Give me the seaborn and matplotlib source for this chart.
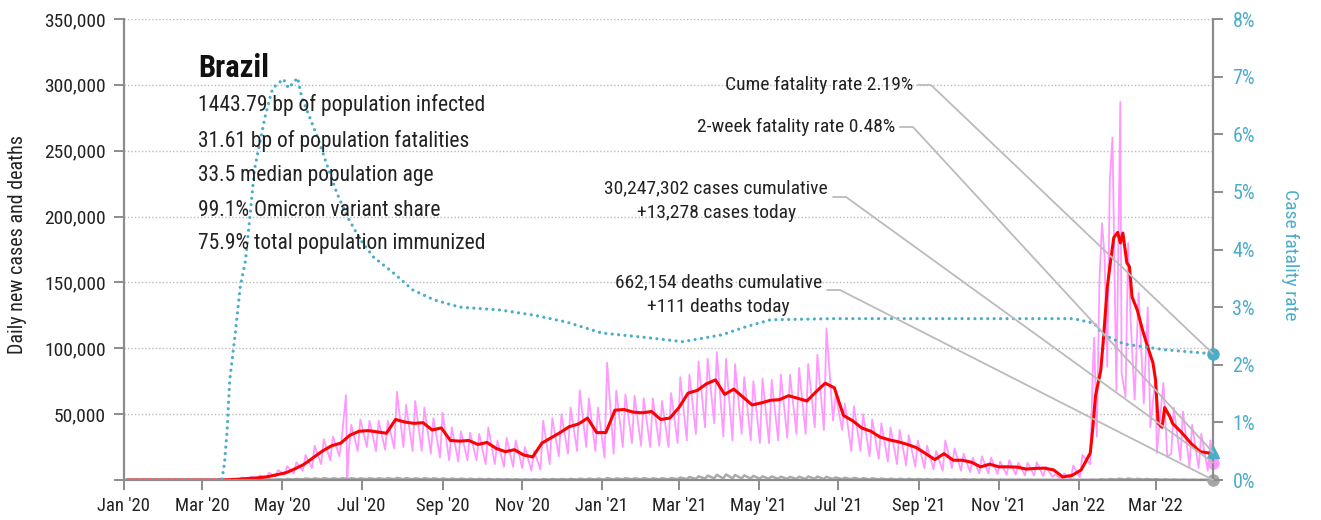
import numpy as np
import pandas as pd
import matplotlib
matplotlib.use("Agg")
import matplotlib.pyplot as plt
import matplotlib.dates as mdates
import matplotlib.font_manager as fm
from matplotlib.ticker import FuncFormatter, MultipleLocator
from matplotlib.lines import Line2D
import seaborn as sns

# ---------------- data ----------------
week_start = pd.date_range("2020-03-16", "2022-04-11", freq="7D")

avg7 = [0, 300, 700, 1200, 1700, 2500, 4000, 5500, 8500, 12000, 17000, 22000, 26000, 28000, 34000, 37000,
        37500, 36500, 35500, 46000, 44000, 43000, 43500, 38000, 39500, 30000, 29500, 30000, 27000, 28500,
        24000, 21500, 23000, 19000, 17500, 28000, 32000, 36000, 40500, 42500, 47000, 36000, 36000, 53000,
        53500, 51500, 51000, 52000, 46000, 47000, 55000, 66000, 68000, 73000, 76000, 65000, 69000, 63000,
        57000, 58500, 60500, 61000, 64000, 62000, 60000, 67000, 73500, 70000, 49000, 45000, 39500, 37000,
        32600, 30500, 29000, 27000, 24500, 20000, 15500, 20000, 15000, 15000, 13500, 10000, 12000, 10000,
        10000, 9800, 8300, 8800, 9000, 7600, 2300, 3500, 7600, 20000, 72000, 152000, 187000, 172000,
        137000, 98000, 72000, 42000, 43000, 36000, 28000, 21500, 20500]

daily_hi = [500, 1200, 2000, 2500, 3500, 5500, 7500, 10500, 13500, 19000, 26000, 31000, 33000, 34000, 42000,
            46000, 45000, 45000, 45000, 67000, 57000, 60000, 55000, 47000, 51000, 40000, 37000, 36000, 35000,
            40000, 30000, 32000, 30000, 25000, 22000, 45000, 47000, 50000, 55000, 68000, 62000, 55000, 89000,
            68000, 65000, 64000, 62000, 62000, 60000, 66000, 78000, 80000, 90000, 92000, 97000, 92000, 88000,
            78000, 75000, 77000, 76000, 80000, 80000, 85000, 88000, 95000, 115000, 65000, 58000, 56000, 50000,
            46000, 43000, 40000, 38000, 34000, 30000, 26000, 22000, 30000, 24000, 20000, 17000, 18000, 17000,
            14000, 15000, 13000, 13000, 13500, 10000, 4000, 5000, 11000, 19000, 70000, 195000, 260000, 287000,
            220000, 178000, 140000, 100000, 76000, 55000, 52000, 42000, 35000, 30000]

daily_lo = [200, 400, 900, 1200, 1500, 2500, 4000, 5000, 7000, 9000, 12000, 15000, 18000, 20000, 22000,
            25000, 22000, 23000, 24000, 25000, 22000, 22000, 20000, 17000, 15000, 14000, 15000, 15000, 12000,
            12000, 10000, 10000, 9000, 7000, 8000, 12000, 18000, 20000, 22000, 25000, 22000, 17000, 20000,
            25000, 28000, 26000, 25000, 26000, 25000, 28000, 30000, 35000, 40000, 43000, 33000, 30000, 35000,
            30000, 28000, 28000, 30000, 32000, 35000, 35000, 40000, 38000, 45000, 38000, 22000, 22000, 18000,
            16000, 14000, 12000, 11000, 10000, 9000, 8000, 7000, 9000, 7000, 6000, 5000, 5000, 4500,
            4000, 4000, 3500, 3500, 3000, 2500, 1000, 1000, 2000, 6000, 15000, 33000, 100000, 102000,
            70000, 66000, 45000, 20000, 15000, 15000, 10000, 9000, 7000, 8000]

deaths_hi = [10, 50, 150, 250, 400, 450, 600, 750, 900, 1100, 1200, 1350, 1300, 1350, 1400, 1300,
             1300, 1300, 1350, 1600, 1400, 1300, 1350, 1300, 1200, 1150, 1100, 1000, 900, 850,
             750, 650, 600, 500, 500, 700, 750, 800, 900, 1000, 1100, 1100, 1500, 1300,
             1400, 1300, 1400, 1300, 1400, 1500, 1900, 2300, 2800, 3300, 3900, 4200, 3800, 3500,
             3100, 2800, 2700, 2500, 2400, 2500, 2700, 2600, 2400, 2000, 1700, 1600, 1400, 1300,
             1100, 1000, 950, 900, 800, 700, 650, 600, 550, 600, 500, 450, 400, 350,
             300, 300, 250, 250, 200, 150, 150, 150, 200, 350, 600, 800, 1000, 1100,
             950, 800, 650, 500, 400, 350, 300, 200, 200]
deaths_lo = [0, 20, 60, 100, 150, 200, 300, 400, 500, 600, 600, 600, 600, 600, 600, 600,
             600, 650, 650, 550, 550, 550, 600, 500, 400, 400, 400, 350, 300, 250,
             250, 200, 200, 150, 150, 200, 250, 250, 300, 350, 300, 300, 400, 500,
             500, 500, 500, 500, 500, 550, 700, 800, 1100, 1300, 1200, 1300, 1200, 1100,
             1000, 900, 900, 850, 800, 800, 850, 750, 700, 600, 550, 500, 450, 400,
             350, 300, 300, 250, 250, 200, 200, 180, 150, 150, 150, 120, 100, 100,
             80, 80, 60, 60, 50, 30, 30, 40, 50, 80, 150, 250, 300, 300,
             250, 250, 150, 120, 100, 80, 60, 40, 40]

# single-day readings outside the weekly pattern
case_outlier_dates = ["2020-06-19", "2020-06-20"]
case_outlier_vals = [64500, 800]

# Omicron wave read day by day (replaces weekly pattern in this window)
omi_start, omi_end = "2022-01-09", "2022-03-13"
omi_case_dates = ["2022-01-10", "2022-01-12", "2022-01-13", "2022-01-15", "2022-01-17", "2022-01-19",
                  "2022-01-21", "2022-01-23", "2022-01-25", "2022-01-27", "2022-01-30", "2022-02-02",
                  "2022-02-03", "2022-02-06", "2022-02-08", "2022-02-10", "2022-02-13", "2022-02-16",
                  "2022-02-18", "2022-02-20", "2022-02-23", "2022-02-25", "2022-03-01", "2022-03-02",
                  "2022-03-07", "2022-03-10", "2022-03-13"]
omi_case_vals = [12000, 86000, 108000, 33000, 150000, 195000, 169000, 86000, 228000, 260000, 68000, 287000,
                 81000, 63000, 180000, 120000, 61000, 142000, 100000, 58000, 131000, 40000, 78000, 20500,
                 73600, 17500, 20000]
omi_avg_dates = ["2022-01-10", "2022-01-12", "2022-01-14", "2022-01-18", "2022-01-20", "2022-01-23",
                 "2022-01-25", "2022-01-28", "2022-01-31", "2022-02-02", "2022-02-04", "2022-02-07",
                 "2022-02-09", "2022-02-11", "2022-02-15", "2022-02-19", "2022-02-23", "2022-02-27",
                 "2022-03-01", "2022-03-03", "2022-03-06", "2022-03-08", "2022-03-12"]
omi_avg_vals = [20500, 40000, 64000, 83000, 106000, 146000, 162000, 184000, 188000, 180000, 187500, 165000,
                162000, 139000, 129000, 114000, 101000, 89000, 76000, 43000, 40000, 55000, 48000]

last_date = "2022-04-14"
cases_today = 13278
deaths_today = 111
avg7_last = 16700

cfr_dates = ["2020-01-03", "2020-03-16", "2020-03-18", "2020-03-20", "2020-03-22", "2020-03-26", "2020-03-30",
             "2020-04-03", "2020-04-07", "2020-04-10", "2020-04-14", "2020-04-18", "2020-04-22", "2020-04-24",
             "2020-05-02", "2020-05-06", "2020-05-13", "2020-05-16", "2020-05-23", "2020-05-29", "2020-06-05",
             "2020-06-12", "2020-06-20", "2020-06-30", "2020-07-10", "2020-07-25", "2020-08-09", "2020-08-25",
             "2020-09-14", "2020-10-15", "2020-11-10", "2020-12-05", "2021-01-01", "2021-02-01",
             "2021-03-04", "2021-04-03", "2021-04-20", "2021-05-10", "2021-06-27", "2021-12-28", "2022-01-13",
             "2022-01-20", "2022-02-05", "2022-03-08", "2022-04-14"]
cfr_vals = [0, 0, 0.3, 0.87, 1.74, 2.5, 3.35, 3.8, 4.7, 5.4, 5.85, 6.3, 6.65, 6.8,
            6.96, 6.8, 6.98, 6.65, 6.25, 5.9, 5.43, 4.98, 4.57, 4.17, 3.87, 3.6, 3.3, 3.13,
            3.0, 2.95, 2.86, 2.74, 2.55, 2.48,
            2.4, 2.52, 2.65, 2.78, 2.8, 2.8, 2.72, 2.52, 2.36, 2.26, 2.19]
cfr_2week = 0.48

stats_title = "Brazil"
stats_lines = ["1443.79 bp of population infected",
               "31.61 bp of population fatalities",
               "33.5 median population age",
               "99.1% Omicron variant share",
               "75.9% total population immunized"]
ann_cume = "Cume fatality rate 2.19%"
ann_2wk = "2-week fatality rate 0.48%"
ann_cases = ["30,247,302 cases cumulative", "+13,278 cases today"]
ann_deaths = ["662,154 deaths cumulative", "+111 deaths today"]

# ---------------- assemble tables ----------------
lead = pd.to_datetime(["2020-01-03", "2020-03-09"])
o0, o1 = pd.Timestamp(omi_start), pd.Timestamp(omi_end)

pink_dates = list(lead) + list(week_start + pd.Timedelta(days=1)) + list(week_start + pd.Timedelta(days=6)) \
    + list(pd.to_datetime(case_outlier_dates)) + [pd.Timestamp(last_date)]
pink_vals = [0, 0] + daily_hi + daily_lo + case_outlier_vals + [cases_today]
df_pink = pd.DataFrame({"date": pink_dates, "cases": pink_vals})
df_pink = df_pink[(df_pink.date < o0) | (df_pink.date > o1)]
df_pink = pd.concat([df_pink, pd.DataFrame({"date": pd.to_datetime(omi_case_dates), "cases": omi_case_vals})])
df_pink = df_pink.sort_values("date")

df_red = pd.DataFrame({"date": list(lead) + list(week_start) + [pd.Timestamp(last_date)],
                       "avg": [0, 0] + avg7 + [avg7_last]})
df_red = df_red[(df_red.date < o0) | (df_red.date > o1)]
df_red = pd.concat([df_red, pd.DataFrame({"date": pd.to_datetime(omi_avg_dates), "avg": omi_avg_vals})])
df_red = df_red.sort_values("date")

death_dates = list(lead) + list(week_start + pd.Timedelta(days=1)) + list(week_start + pd.Timedelta(days=6)) \
    + [pd.Timestamp(last_date)]
df_death = pd.DataFrame({"date": death_dates,
                         "deaths": [0, 0] + deaths_hi + deaths_lo + [deaths_today]}).sort_values("date")

df_cfr = pd.DataFrame({"date": pd.to_datetime(cfr_dates), "cfr": np.array(cfr_vals) / 100})

# ---------------- style ----------------
sns.set_theme(style="white")

entries = fm.fontManager.ttflist
names = {f.name for f in entries}
FAM, STRETCH, SCALE = "Roboto", "normal", 0.9
picked = False
for nm in ["Roboto Condensed", "Liberation Sans Narrow", "Open Sans Condensed", "Noto Sans Condensed"]:
    if nm in names:
        FAM, STRETCH, SCALE = nm, "normal", 1.0
        picked = True
        break
if not picked:
    for nm in ["Noto Sans", "Roboto", "Open Sans", "DejaVu Sans"]:
        st = [str(f.stretch) for f in entries if f.name == nm
              and str(f.stretch) in ("condensed", "semi-condensed", "extra-condensed")]
        if st:
            FAM, STRETCH, SCALE = nm, ("condensed" if "condensed" in st else st[0]), 1.0
            break
plt.rcParams["font.family"] = [FAM, "DejaVu Sans"]
plt.rcParams["font.stretch"] = STRETCH


def fs(v):
    return v * SCALE


TEAL = "#4AADC9"
PINK = "#FF99FF"
RED = "#FF0000"
GRAY = "#AAAAAA"
SPINE = "#8C8C8C"
LEAD = "#BBBBBB"
TXT = "#222222"

W, H = 1321, 520
fig = plt.figure(figsize=(W / 100, H / 100), dpi=100)
ax = fig.add_axes([124 / W, 40 / H, (1213 - 124) / W, (480 - 19) / H])
ax2 = ax.twinx()

sns.lineplot(data=df_pink, x="date", y="cases", ax=ax, color=PINK, lw=1.3, estimator=None, sort=False)
sns.lineplot(data=df_death, x="date", y="deaths", ax=ax, color=GRAY, lw=1.8, estimator=None, sort=False)
sns.lineplot(data=df_red, x="date", y="avg", ax=ax, color=RED, lw=2.2, estimator=None, sort=False)
sns.lineplot(data=df_cfr, x="date", y="cfr", ax=ax2, color=TEAL, lw=2.3, estimator=None,
             linestyle=(0, (0.01, 2.0)), dash_capstyle="round")

end = pd.Timestamp(last_date)
xmin = pd.Timestamp("2020-01-01")
ax.set_xlim(xmin, end)
ax.set_ylim(0, 350000)
ax2.set_ylim(0, 0.08)

# end markers
ax.plot([end], [cases_today], "o", color=PINK, ms=8, clip_on=False, zorder=5)
ax.plot([end], [deaths_today], "o", color="#A6A6A6", ms=8, clip_on=False, zorder=5)
ax2.plot([end], [cfr_vals[-1] / 100], "o", color=TEAL, ms=8, clip_on=False, zorder=5)
ax2.plot([end], [cfr_2week / 100], "^", color=TEAL, ms=8, clip_on=False, zorder=5)

# axes formatting
ax.yaxis.set_major_locator(MultipleLocator(50000))
ax.yaxis.set_major_formatter(FuncFormatter(lambda v, p: "" if v == 0 else f"{v:,.0f}"))
ax2.yaxis.set_major_locator(MultipleLocator(0.01))
ax2.yaxis.set_major_formatter(FuncFormatter(lambda v, p: f"{v * 100:.0f}%"))
ax.xaxis.set_major_locator(mdates.MonthLocator(bymonth=[1, 3, 5, 7, 9, 11]))
ax.xaxis.set_major_formatter(mdates.DateFormatter("%b '%y"))

ax.grid(axis="y", color="#BBBBBB", linestyle=(0, (1, 1.5)), lw=1)
ax.grid(axis="x", visible=False)
ax2.grid(False)
ax.set_xlabel("")
ax.set_ylabel("")
ax2.set_ylabel("")

for a in (ax, ax2):
    a.spines["top"].set_visible(False)
    for s in ("left", "bottom", "right"):
        a.spines[s].set_color(SPINE)
        a.spines[s].set_linewidth(1.6)
ax.spines["right"].set_visible(False)
ax2.spines["left"].set_visible(False)
ax2.spines["bottom"].set_visible(False)

ax.tick_params(axis="y", left=True, length=7, width=1.4, color=SPINE, labelsize=fs(14), labelcolor=TXT, pad=6)
ax.tick_params(axis="x", bottom=True, length=7, width=1.4, color=SPINE, labelsize=fs(13.5), labelcolor=TXT, pad=5)
ax2.tick_params(axis="y", right=True, length=7, width=1.4, color=SPINE, labelsize=fs(14.5), labelcolor=TEAL, pad=7)

ax.set_zorder(1)
ax2.set_zorder(2)
ax2.patch.set_visible(False)


def fx(x):
    return x / W


def fy(y):
    return 1 - y / H


fig.text(fx(18), fy(245), "Daily new cases and deaths", rotation=90, ha="center", va="center",
         fontsize=fs(14.5), color=TXT)
fig.text(fx(1290), fy(255), "Case fatality rate", rotation=270, ha="center", va="center",
         fontsize=fs(14), color=TEAL)

# stats block
fig.text(fx(198), fy(68), stats_title, ha="left", va="center", fontsize=fs(22), color="#111111",
         fontweight="bold", zorder=10)
for line, yy in zip(stats_lines, [105, 141, 176, 211, 244]):
    fig.text(fx(198), fy(yy), line, ha="left", va="center", fontsize=fs(15.5), color=TXT, zorder=10)

# annotations
t_cume = fig.text(fx(913), fy(85), ann_cume, ha="right", va="center", fontsize=fs(14), color=TXT, zorder=10)
t_2wk = fig.text(fx(895), fy(127), ann_2wk, ha="right", va="center", fontsize=fs(14), color=TXT, zorder=10)
t_c1 = fig.text(fx(828), fy(188), ann_cases[0], ha="right", va="center", fontsize=fs(14), color=TXT, zorder=10)
t_c2 = fig.text(fx(714), fy(213), ann_cases[1], ha="center", va="center", fontsize=fs(14), color=TXT, zorder=10)
t_d1 = fig.text(fx(822), fy(282), ann_deaths[0], ha="right", va="center", fontsize=fs(14), color=TXT, zorder=10)
t_d2 = fig.text(fx(716), fy(307), ann_deaths[1], ha="center", va="center", fontsize=fs(14), color=TXT, zorder=10)

fig.canvas.draw()
renderer = fig.canvas.get_renderer()
inv = fig.transFigure.inverted()
# centre the second lines under the first lines
for first, second in ((t_c1, t_c2), (t_d1, t_d2)):
    b = first.get_window_extent(renderer)
    second.set_x(inv.transform(((b.x0 + b.x1) / 2, 0))[0])

endnum = mdates.date2num(end)


def leader(text_artist, y_px, target_axes, target_val):
    bb = text_artist.get_window_extent(renderer)
    x0 = bb.x1 + 5
    x1 = x0 + 13
    ydisp = H - y_px
    tx, ty = target_axes.transData.transform((endnum, target_val))
    pts = inv.transform([(x0, ydisp), (x1, ydisp), (tx, ty)])
    fig.add_artist(Line2D(pts[:, 0], pts[:, 1], transform=fig.transFigure, color=LEAD, lw=1.3, zorder=9))


leader(t_cume, 85, ax2, cfr_vals[-1] / 100)
leader(t_2wk, 127, ax2, cfr_2week / 100)
leader(t_c1, 197, ax, cases_today)
leader(t_d1, 290, ax, deaths_today)

fig.savefig("out.png", dpi=100)
